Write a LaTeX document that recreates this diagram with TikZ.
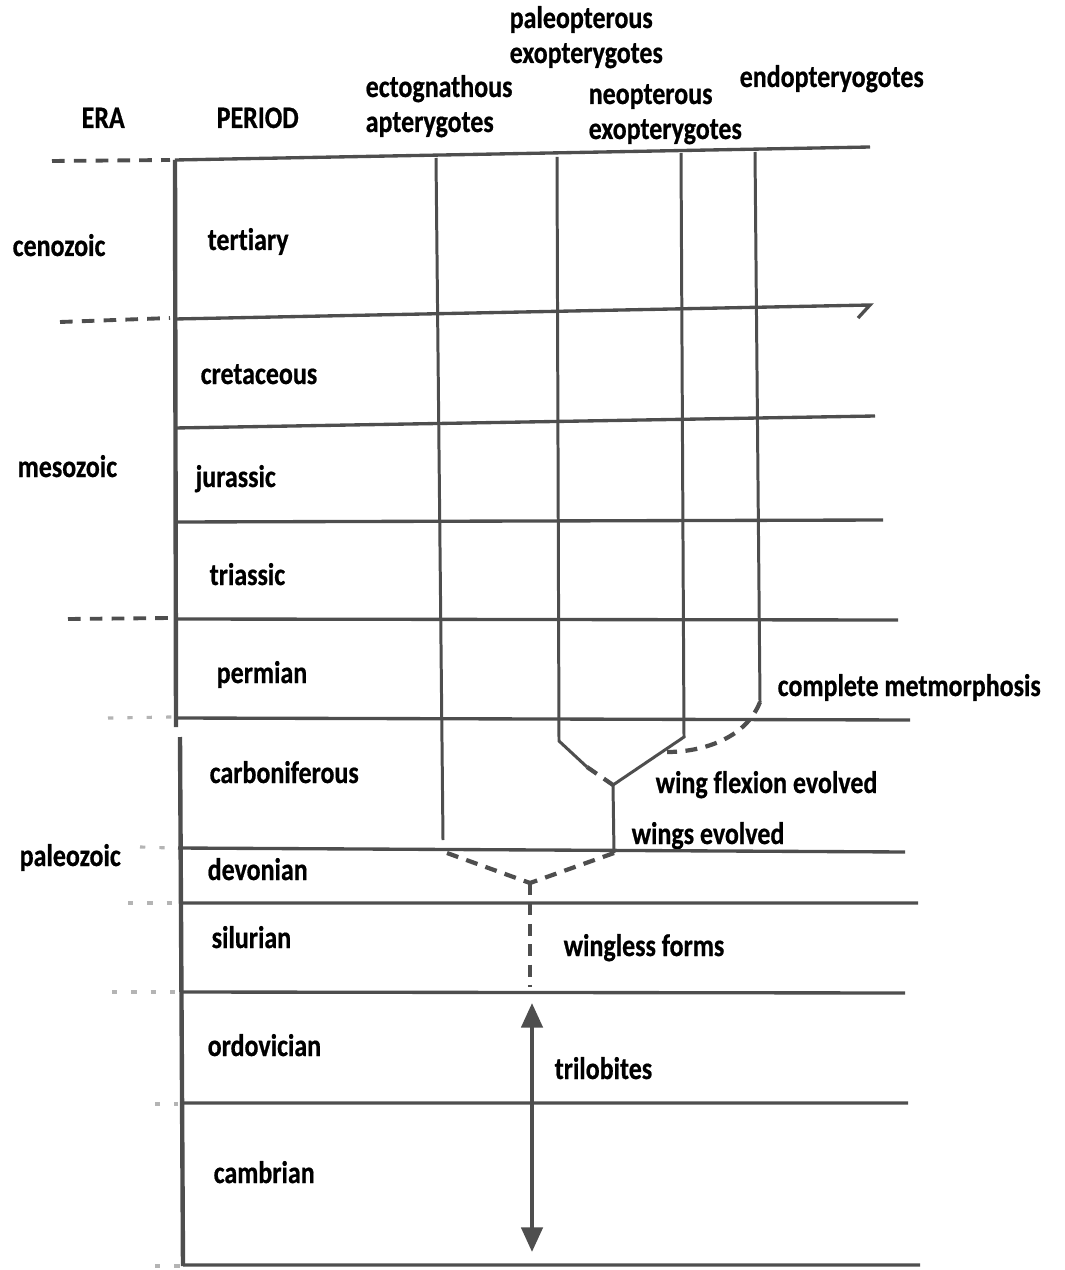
\documentclass[tikz,border=0pt]{standalone}
\usepackage{fontspec}
\setmainfont{Carlito}[FakeStretch=0.83, Ligatures=NoCommon, BoldFont={Carlito Bold}, BoldFeatures={FakeStretch=0.83, FakeBold=0.6}]
\usetikzlibrary{arrows.meta}
\definecolor{inkgray}{HTML}{4E4E4E}
\definecolor{fadegray}{HTML}{B4B4B4}
\begin{document}
\begin{tikzpicture}[x=0.01cm, y=-0.01cm,
        rule/.style={line width=0.95pt, draw=inkgray},
        axis/.style={line width=1.25pt, draw=inkgray},
        lineage/.style={line width=0.85pt, draw=inkgray},
        gapline/.style={line width=1.2pt, draw=inkgray, dash pattern=on 3.4pt off 2.4pt},
        eradash/.style={line width=1.1pt, draw=inkgray, dash pattern=on 3.6pt off 2.6pt},
        erafaint/.style={line width=0.9pt, draw=fadegray, dash pattern=on 1.5pt off 4pt},
        lbl/.style={anchor=base west, inner sep=0pt, font=\fontsize{8.9}{10}\selectfont\bfseries}]
    \useasboundingbox (0, 0) rectangle (1065, 1270);

    \node[lbl] (era)    at (81, 128) {ERA};
    \node[lbl] (period) at (216, 128) {PERIOD};
    \node[lbl] (ecto1)  at (365, 97) {ectognathous};
    \node[lbl] (ecto2)  at (365, 132) {apterygotes};
    \node[lbl] (paleo1) at (509, 28) {paleopterous};
    \node[lbl] (paleo2) at (509, 63) {exopterygotes};
    \node[lbl] (neo1)   at (588, 104) {neopterous};
    \node[lbl] (neo2)   at (588, 139) {exopterygotes};
    \node[lbl] (endo)   at (739, 87) {endopteryogotes};

    \node[lbl] (cenozoic)  at (12, 256) {cenozoic};
    \node[lbl] (mesozoic)  at (17, 477) {mesozoic};
    \node[lbl] (paleozoic) at (19, 866) {paleozoic};

    \node[lbl] (tertiary)      at (207, 250) {tertiary};
    \node[lbl] (cretaceous)    at (200, 384) {cretaceous};
    \node[lbl] (jurassic)      at (195, 487) {jurassic};
    \node[lbl] (triassic)      at (209, 585) {triassic};
    \node[lbl] (permian)       at (216, 683) {permian};
    \node[lbl] (carboniferous) at (209, 783) {carboniferous};
    \node[lbl] (devonian)      at (207, 880) {devonian};
    \node[lbl] (silurian)      at (211, 948) {silurian};
    \node[lbl] (ordovician)    at (207, 1056) {ordovician};
    \node[lbl] (cambrian)      at (213, 1183) {cambrian};

    \node[lbl] (metamorph) at (777, 696) {complete metmorphosis};
    \node[lbl] (flexion)   at (655, 793) {wing flexion evolved};
    \node[lbl] (wings)     at (631, 844) {wings evolved};
    \node[lbl] (wingless)  at (563, 956) {wingless forms};
    \node[lbl] (trilobite) at (554, 1079) {trilobites};

    \draw[axis] (175, 160) -- (176, 727);
    \draw[axis] (180, 737) -- (183, 1266);

    \draw[rule]
        (175, 160) -- (870, 147)
        (175, 319) -- (870, 305) -- (858, 318)
        (175, 428) -- (875, 416)
        (176, 522) -- (883, 520)
        (176, 619) -- (898, 620)
        (176, 718) -- (910, 720)
        (178, 848) -- (905, 852)
        (180, 903) -- (918, 903)
        (181, 992) -- (905, 993)
        (182, 1103) -- (908, 1103)
        (183, 1265) -- (920, 1265)
    ;

    \draw[eradash] (52, 161) -- (170, 160);
    \draw[eradash] (60, 322) -- (170, 318);
    \draw[eradash] (68, 619) -- (170, 618);
    \draw[erafaint] (108, 718) -- (172, 717);
    \draw[erafaint] (140, 847) -- (172, 848);
    \draw[erafaint] (128, 903) -- (176, 903);
    \draw[erafaint] (112, 992) -- (176, 992);
    \draw[erafaint] (155, 1104) -- (178, 1104);
    \draw[erafaint] (155, 1266) -- (180, 1266);

    \coordinate (ectoTop)  at (436, 158);
    \coordinate (ectoEnd)  at (443, 840);
    \coordinate (ectoDash) at (447, 853);
    \coordinate (paleoTop) at (557, 157);
    \coordinate (paleoBend) at (559, 741);
    \coordinate (paleoMid) at (587, 767);
    \coordinate (neoTop)   at (681, 153);
    \coordinate (neoBend)  at (684, 737);
    \coordinate (neoJoin)  at (667, 752);
    \coordinate (endoTop)  at (755, 152);
    \coordinate (endoEnd)  at (760, 702);
    \coordinate (fork)     at (613, 785);
    \coordinate (stemEnd)  at (614, 853);
    \coordinate (root)     at (530, 883);
    \coordinate (rootEnd)  at (530, 987);
    \coordinate (triTop)   at (532, 1003);
    \coordinate (triBot)   at (532, 1252);

    \draw[lineage] (ectoTop) -- (ectoEnd);
    \draw[gapline] (ectoDash) -- (root);
    \draw[lineage] (paleoTop) -- (paleoBend) -- (paleoMid);
    \draw[gapline] (paleoMid) -- (fork);
    \draw[lineage] (neoTop) -- (neoBend) -- (fork);
    \draw[lineage] (endoTop) -- (endoEnd);
    \draw[gapline] (endoEnd) .. controls (745, 740) and (700, 752) .. (neoJoin);
    \draw[lineage] (fork) -- (stemEnd);
    \draw[gapline] (stemEnd) -- (root);
    \draw[gapline, line width=1.4pt] (root) -- (rootEnd);
    \draw[line width=1.2pt, draw=inkgray, {Triangle[width=6pt, length=7pt]}-{Triangle[width=6pt, length=7pt]}] (triTop) -- (triBot);
\end{tikzpicture}
\end{document}
